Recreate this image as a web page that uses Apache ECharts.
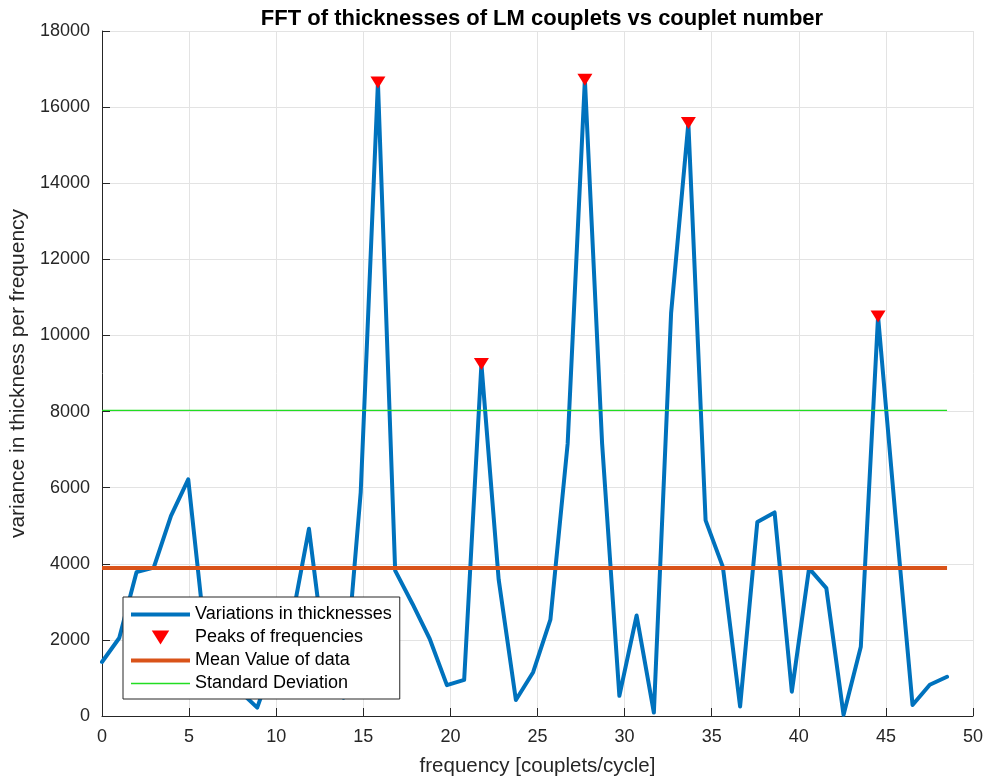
<!DOCTYPE html>
<html>
<head>
<meta charset="utf-8">
<title>FFT of thicknesses of LM couplets</title>
<script src="https://cdn.jsdelivr.net/npm/echarts@6/dist/echarts.min.js"></script>
<style>
  html, body { margin: 0; padding: 0; background: #ffffff; }
  #chart { width: 984px; height: 777px; }
</style>
</head>
<body>
<div id="chart"></div>
<script>
// Frequency bins (couplets/cycle)
var freq = [0, 0.99, 1.98, 2.97, 3.96, 4.95, 5.94, 6.93, 7.92, 8.91,
            9.9, 10.89, 11.88, 12.87, 13.86, 14.85, 15.84, 16.83, 17.82, 18.81,
            19.8, 20.79, 21.78, 22.77, 23.76, 24.75, 25.74, 26.73, 27.72, 28.71,
            29.7, 30.69, 31.68, 32.67, 33.66, 34.65, 35.64, 36.63, 37.62, 38.61,
            39.6, 40.59, 41.58, 42.57, 43.56, 44.55, 45.54, 46.53, 47.52, 48.51];

// Variance in thickness for each frequency bin
var variance = [1420, 2050, 3780, 3900, 5260, 6220, 2000, 1000, 650, 220,
                1500, 2500, 4920, 1300, 480, 5870, 16650, 3820, 2950, 2030,
                810, 950, 9250, 3590, 420, 1150, 2530, 7150, 16720, 7150,
                530, 2640, 90, 10590, 15580, 5140, 3920, 250, 5100, 5350,
                640, 3880, 3360, 30, 1820, 10500, 5300, 290, 820, 1030];

// Indices of the detected peaks
var peakIdx = [16, 22, 28, 34, 45];

// Reference levels
var meanValue = 3890;
var stdLevel = 8030;

var seriesNames = ['Variations in thicknesses', 'Peaks of frequencies',
                   'Mean Value of data', 'Standard Deviation'];

var lineData = freq.map(function (f, i) { return [f, variance[i]]; });
var peakData = peakIdx.map(function (i) { return [freq[i], variance[i]]; });
var xFirst = freq[0], xLast = freq[freq.length - 1];
var meanData = [[xFirst, meanValue], [xLast, meanValue]];
var stdData = [[xFirst, stdLevel], [xLast, stdLevel]];

var triangleDown = 'path://M0,0L15,0L7.5,12Z';
// Legend line icons: flat bars that keep their aspect inside the icon box
var thickLineIcon = 'path://M0,0L59,0L59,4L0,4Z';
var thinLineIcon = 'path://M0,0L59,0L59,1.6L0,1.6Z';

var font = 'Liberation Sans, Arial, Helvetica, sans-serif';
var axisColor = '#262626';
var gridColor = '#e3e3e3';
var blue = '#0072BD', red = '#FF0000', orange = '#D95319', green = '#22dd22';

var chart = echarts.init(document.getElementById('chart'), null, { renderer: 'canvas' });

chart.setOption({
  animation: false,
  backgroundColor: '#ffffff',
  textStyle: { fontFamily: font },
  title: {
    text: 'FFT of thicknesses of LM couplets vs couplet number',
    left: 537,
    top: 3,
    textAlign: 'center',
    textStyle: { fontFamily: font, fontSize: 22, fontWeight: 'bold', color: '#000000' }
  },
  grid: { left: 102, right: 11, top: 31, bottom: 61, containLabel: false, outerBoundsMode: 'none' },
  legend: {
    orient: 'vertical',
    left: 123,
    top: 597,
    padding: [6, 8, 4, 8],
    itemGap: 0,
    itemWidth: 59,
    itemHeight: 14,
    symbolKeepAspect: true,
    backgroundColor: '#ffffff',
    borderColor: '#262626',
    borderWidth: 1,
    textStyle: { fontFamily: font, fontSize: 18, color: '#000000', lineHeight: 23 },
    data: [
      { name: seriesNames[0], icon: thickLineIcon, itemStyle: { color: blue, borderWidth: 0 } },
      { name: seriesNames[1], icon: triangleDown, itemStyle: { color: red, borderWidth: 0 } },
      { name: seriesNames[2], icon: thickLineIcon, itemStyle: { color: orange, borderWidth: 0 } },
      { name: seriesNames[3], icon: thinLineIcon, itemStyle: { color: green, borderWidth: 0 } }
    ]
  },
  xAxis: {
    type: 'value',
    min: 0,
    max: 50,
    interval: 5,
    name: 'frequency [couplets/cycle]',
    nameLocation: 'middle',
    nameGap: 40,
    nameTextStyle: { fontFamily: font, fontSize: 20.5, color: axisColor },
    axisLine: { show: true, onZero: false, lineStyle: { color: axisColor, width: 1 } },
    axisTick: { show: true, inside: true, length: 8, lineStyle: { color: axisColor } },
    axisLabel: { margin: 12, fontFamily: font, fontSize: 18, color: axisColor,
                 formatter: function (v) { return String(v); } },
    splitLine: { show: true, lineStyle: { color: gridColor, width: 1 } }
  },
  yAxis: {
    type: 'value',
    min: 0,
    max: 18000,
    interval: 2000,
    name: 'variance in thickness per frequency',
    nameLocation: 'middle',
    nameGap: 66,
    nameTextStyle: { fontFamily: font, fontSize: 21, color: axisColor },
    axisLine: { show: true, lineStyle: { color: axisColor, width: 1 } },
    axisTick: { show: true, inside: true, length: 8, lineStyle: { color: axisColor } },
    axisLabel: { margin: 12, fontFamily: font, fontSize: 18, color: axisColor,
                 formatter: function (v) { return String(v); } },
    splitLine: { show: true, lineStyle: { color: gridColor, width: 1 } }
  },
  series: [
    {
      name: seriesNames[0],
      type: 'line',
      data: lineData,
      symbol: 'none',
      lineStyle: { color: blue, width: 4, join: 'round', cap: 'round' },
      itemStyle: { color: blue },
      z: 2
    },
    {
      name: seriesNames[1],
      type: 'scatter',
      data: peakData,
      symbol: triangleDown,
      symbolSize: [15, 12],
      itemStyle: { color: red, opacity: 1 },
      z: 3
    },
    {
      name: seriesNames[2],
      type: 'line',
      data: meanData,
      symbol: 'none',
      lineStyle: { color: orange, width: 4 },
      itemStyle: { color: orange },
      z: 4
    },
    {
      name: seriesNames[3],
      type: 'line',
      data: stdData,
      symbol: 'none',
      lineStyle: { color: green, width: 1.2 },
      itemStyle: { color: green },
      z: 5
    }
  ]
});
</script>
</body>
</html>
